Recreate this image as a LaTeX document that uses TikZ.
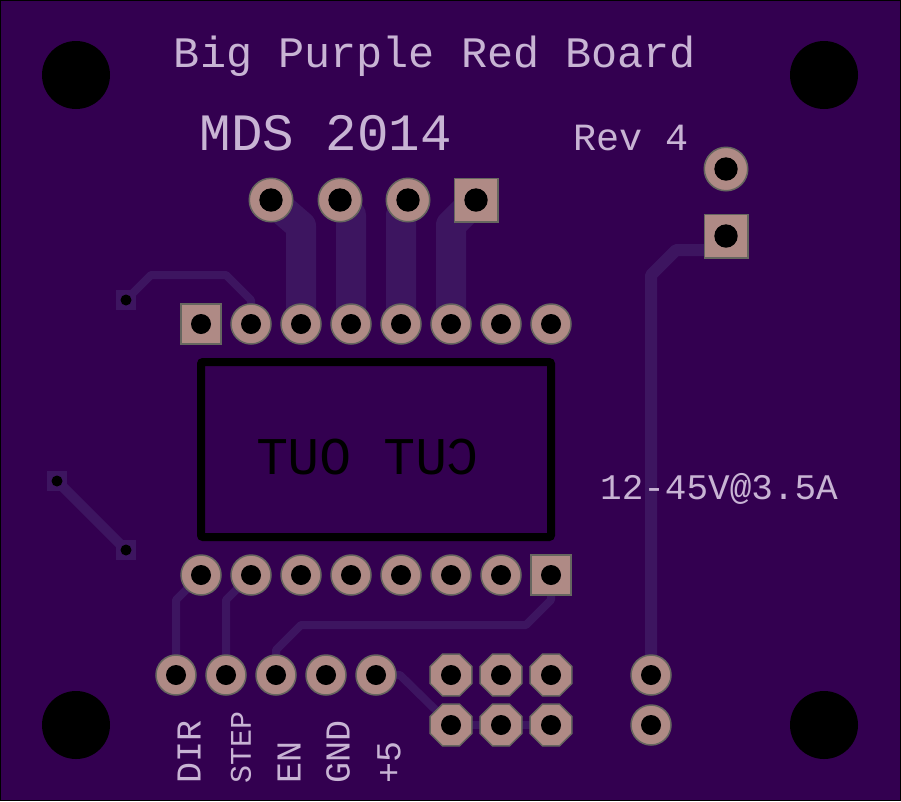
\documentclass[tikz,border=0pt]{standalone}
\usepackage{fontspec}
\usepackage{xcolor}
\usepackage{tikz}
\usetikzlibrary{shapes.geometric}
\usetikzlibrary{backgrounds}
\setmonofont{Liberation Mono}
\definecolor{boardcol}{HTML}{330050}
\definecolor{tracecol}{HTML}{3D1560}
\definecolor{padcol}{HTML}{AF8A85}
\definecolor{ringcol}{HTML}{66665F}
\definecolor{silkcol}{HTML}{C8B4D4}
\tikzset{x=1pt,y=-1pt,
	hole/.style={path picture={\fill[black] (path picture bounding box.center) circle (#1);}},
	roundpad/.style={draw=ringcol,line width=1.5pt,fill=padcol,shape=circle,inner sep=0pt,minimum size=40pt,hole=10},
	bigpad/.style={roundpad,minimum size=43.5pt,hole=11.7},
	squarepad/.style={draw=ringcol,line width=1.5pt,fill=padcol,shape=rectangle,inner sep=0pt,minimum size=40pt,hole=10},
	octopad/.style={draw=ringcol,line width=1.5pt,fill=padcol,shape=regular polygon,regular polygon sides=8,inner sep=0pt,minimum size=45pt,hole=10},
	via/.style={fill=tracecol,shape=rectangle,inner sep=0pt,minimum size=20pt,hole=5.5},
	mount/.style={fill=black,shape=circle,inner sep=0pt,minimum size=68pt},
	trace/.style={draw=tracecol,line width=#1,line join=round},
	silk/.style={text=silkcol,inner sep=0pt},
	sidelabel/.style={silk,rotate=90,anchor=west}
}
\newcommand{\silkfont}[1]{\ttfamily\fontsize{#1}{#1}\selectfont}
\begin{document}
\begin{tikzpicture}
	\useasboundingbox (0,0) rectangle (901,801);
	% mounting holes
	\node[mount] (m1) at (76,75) {};
	\node[mount] (m2) at (824,75) {};
	\node[mount] (m3) at (76,725) {};
	\node[mount] (m4) at (824,725) {};
	% header on top
	\node[bigpad] (t1) at (271,200) {};
	\node[bigpad] (t2) at (340,200) {};
	\node[bigpad] (t3) at (408,200) {};
	\node[squarepad,minimum size=43.5pt,hole=11.7] (t4) at (476,200) {};
	% upper row
	\node[squarepad] (u1) at (201,324) {};
	\node[roundpad] (u2) at (251,324) {};
	\node[roundpad] (u3) at (301,324) {};
	\node[roundpad] (u4) at (351,324) {};
	\node[roundpad] (u5) at (401,324) {};
	\node[roundpad] (u6) at (451,324) {};
	\node[roundpad] (u7) at (501,324) {};
	\node[roundpad] (u8) at (551,324) {};
	% lower row
	\node[roundpad] (l1) at (201,575) {};
	\node[roundpad] (l2) at (251,575) {};
	\node[roundpad] (l3) at (301,575) {};
	\node[roundpad] (l4) at (351,575) {};
	\node[roundpad] (l5) at (401,575) {};
	\node[roundpad] (l6) at (451,575) {};
	\node[roundpad] (l7) at (501,575) {};
	\node[squarepad] (l8) at (551,575) {};
	% signal header
	\node[roundpad] (dir) at (176,675) {};
	\node[roundpad] (step) at (226,675) {};
	\node[roundpad] (en) at (276,675) {};
	\node[roundpad] (gnd) at (326,675) {};
	\node[roundpad] (five) at (376,675) {};
	% octagon block
	\node[octopad] (o1) at (451,675) {};
	\node[octopad] (o2) at (501,675) {};
	\node[octopad] (o3) at (551,675) {};
	\node[octopad] (o4) at (451,725) {};
	\node[octopad] (o5) at (501,725) {};
	\node[octopad] (o6) at (551,725) {};
	% power
	\node[roundpad] (p1) at (651,675) {};
	\node[roundpad] (p2) at (651,725) {};
	\node[bigpad] (v1) at (726,169) {};
	\node[squarepad,minimum size=43.5pt,hole=11.7] (v2) at (726,236) {};
	% vias
	\node[via] (a1) at (126,300) {};
	\node[via] (a2) at (57,481) {};
	\node[via] (a3) at (126,550) {};
	% traces
	\begin{scope}[on background layer]
		\fill[black] (0,0) rectangle (901,801);
		\fill[boardcol] (1,1) rectangle (900,800);
		\draw[trace=30pt] (u3.center)--(301,226)--(t1.center);
		\draw[trace=30pt] (u4.center)--(351,215)--(t2.center);
		\draw[trace=30pt] (u5.center)--(401,215)--(t3.center);
		\draw[trace=30pt] (u6.center)--(451,225)--(t4.center);
		\draw[trace=8pt] (a1.center)--(151,275)--(226,275)--(251,300)--(u2.center);
		\draw[trace=10pt] (a2.center)--(a3.center);
		\draw[trace=8pt] (dir.center)--(176,600)--(l1.center);
		\draw[trace=8pt] (step.center)--(226,600)--(l2.center);
		\draw[trace=8pt] (en.center)--(276,650)--(301,625)--(526,625)--(551,600)--(l8.center);
		\draw[trace=8pt] (five.center)--(400,675)--(o4.center);
		\draw[trace=8pt] (o4.center)--(o5.center)--(o6.center);
		\draw[trace=12pt] (p1.center)--(651,275)--(676,250)--(726,250);
	\end{scope}
	% cut out
	\node[draw=black,line width=8pt,rounded corners=2pt,minimum width=350pt,minimum height=175pt,inner sep=0pt] (cut) at (376,449.5) {};
	\node[text=black,font=\silkfont{53},xscale=-1,inner sep=0pt] (cuttext) at (367.5,457) {CUT OUT};
	% silkscreen
	\node[silk,font=\silkfont{43.5}] (title) at (435,56) {Big Purple Red Board};
	\node[silk,font=\silkfont{52.5}] (mds) at (326,133) {MDS 2014};
	\node[silk,font=\silkfont{38.5}] (rev) at (631,138) {Rev 4};
	\node[silk,font=\silkfont{36}] (volt) at (719,489) {12-45V@3.5A};
	\node[sidelabel,font=\silkfont{35}] (ldir) at (189,784) {DIR};
	\node[sidelabel,font=\silkfont{30}] (lstep) at (241,784) {STEP};
	\node[sidelabel,font=\silkfont{35}] (len) at (289,784) {EN};
	\node[sidelabel,font=\silkfont{35}] (lgnd) at (338,784) {GND};
	\node[sidelabel,font=\silkfont{35}] (lfive) at (389,784) {+5};
\end{tikzpicture}
\end{document}
